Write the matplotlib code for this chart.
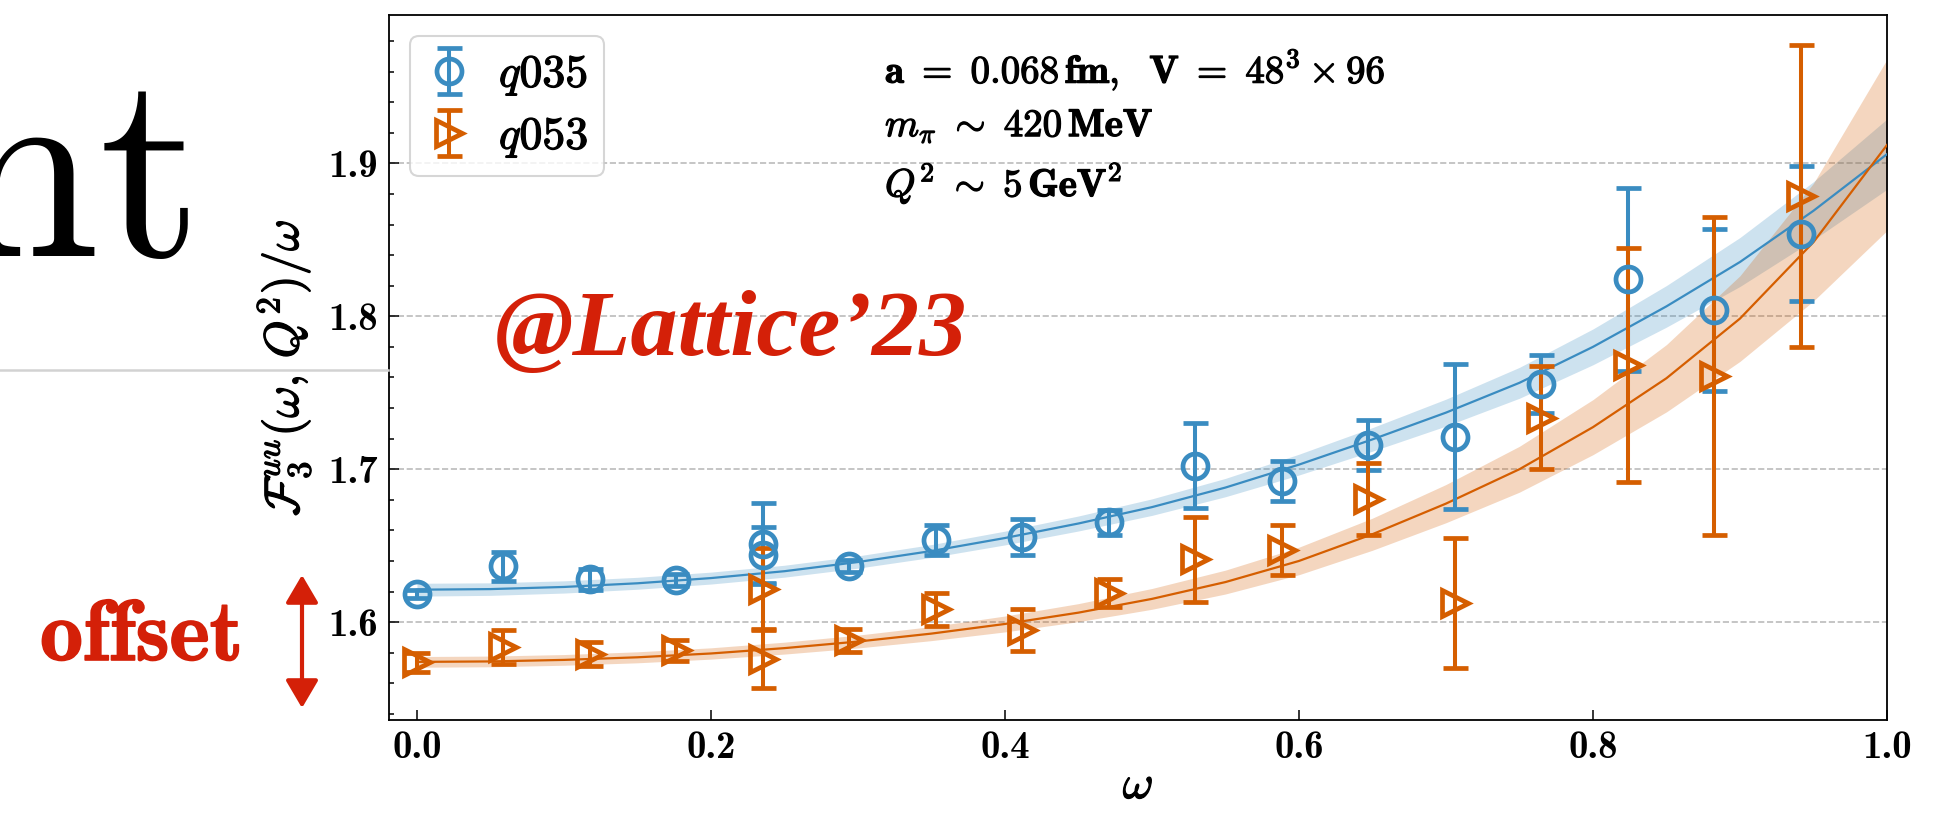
import matplotlib
matplotlib.use("Agg")
import matplotlib.pyplot as plt
import matplotlib.patheffects as pe
from matplotlib.ticker import MultipleLocator
from matplotlib.patches import FancyArrowPatch
from matplotlib.lines import Line2D

plt.rcParams['mathtext.fontset'] = 'cm'

# ---- data ----
omega = [0.0, 0.0588, 0.1176, 0.1765, 0.2353, 0.2353, 0.2941, 0.3529, 0.4118,
         0.4706, 0.5294, 0.5882, 0.6471, 0.7059, 0.7647, 0.8235, 0.8824, 0.9412]

f_q035 = [1.6183, 1.6366, 1.6279, 1.6275, 1.6514, 1.6438, 1.6366, 1.6536, 1.6558,
          1.6652, 1.7024, 1.6924, 1.7157, 1.7211, 1.7556, 1.8242, 1.8039, 1.8540]
err_q035 = [0.0025, 0.0095, 0.0068, 0.004, 0.0266, 0.0185, 0.004, 0.010, 0.0117,
            0.008, 0.0275, 0.013, 0.0163, 0.0474, 0.019, 0.0597, 0.053, 0.044]

f_q053 = [1.5737, 1.5839, 1.5791, 1.5817, 1.6218, 1.5758, 1.5882, 1.6083, 1.5948,
          1.6192, 1.6410, 1.6471, 1.6806, 1.6122, 1.7338, 1.7680, 1.7608, 1.8786]
err_q053 = [0.006, 0.011, 0.0078, 0.0068, 0.0265, 0.019, 0.0075, 0.0108, 0.0137,
            0.0093, 0.0278, 0.0163, 0.0236, 0.0425, 0.0335, 0.0765, 0.104, 0.0985]

# fitted curves and their bands
omega_fit = [0.00, 0.05, 0.10, 0.15, 0.20, 0.25, 0.30, 0.35, 0.40, 0.45, 0.50,
             0.55, 0.60, 0.65, 0.70, 0.75, 0.80, 0.85, 0.90, 0.95, 1.00]
fit_q035 = [1.6212, 1.6216, 1.6230, 1.6254, 1.6288, 1.6333, 1.6393, 1.6465, 1.6550,
            1.6645, 1.6752, 1.6880, 1.7030, 1.7195, 1.7370, 1.7565, 1.7800, 1.8065,
            1.8355, 1.8690, 1.9060]
band_q035 = [0.0042, 0.0041, 0.0040, 0.0039, 0.0039, 0.0039, 0.0040, 0.0042, 0.0045,
             0.0049, 0.0054, 0.0060, 0.0068, 0.0077, 0.0088, 0.0101, 0.0117, 0.0136,
             0.0160, 0.0190, 0.0230]
fit_q053 = [1.5740, 1.5743, 1.5753, 1.5770, 1.5795, 1.5830, 1.5873, 1.5925, 1.5988,
            1.6062, 1.6152, 1.6262, 1.6400, 1.6575, 1.6775, 1.7000, 1.7275, 1.7595,
            1.7985, 1.8485, 1.9120]
band_q053 = [0.0035, 0.0035, 0.0035, 0.0036, 0.0037, 0.0039, 0.0042, 0.0046, 0.0052,
             0.0059, 0.0068, 0.0078, 0.0090, 0.0105, 0.0125, 0.0150, 0.0180, 0.0220,
             0.0280, 0.0385, 0.0560]

xticks = [0.0, 0.2, 0.4, 0.6, 0.8, 1.0]
yticks = [1.6, 1.7, 1.8, 1.9]

blue = '#3a8cc1'
orange = '#d55e00'
red = '#d42008'

W, H = 1936, 823
fig = plt.figure(figsize=(W / 100, H / 100), dpi=100)
ax = fig.add_axes([389 / W, 1 - 720 / H, 1498 / W, 705 / H])

# fake "boldsymbol": thicken glyphs with a thin stroke
heavy = [pe.withStroke(linewidth=0.9, foreground='black')]

def band(fit, wid, sign):
    return [f + sign * w for f, w in zip(fit, wid)]

ax.fill_between(omega_fit, band(fit_q035, band_q035, -1), band(fit_q035, band_q035, 1),
                color=blue, alpha=0.25, lw=0, zorder=2)
ax.fill_between(omega_fit, band(fit_q053, band_q053, -1), band(fit_q053, band_q053, 1),
                color=orange, alpha=0.25, lw=0, zorder=2)
ax.plot(omega_fit, fit_q035, color=blue, lw=1.6, zorder=3)
ax.plot(omega_fit, fit_q053, color=orange, lw=1.6, zorder=3)

ekw = dict(ls='none', mew=3.4, mfc='none', elinewidth=2.9, capsize=9, capthick=2.9, zorder=4)
ax.errorbar(omega, f_q035, yerr=err_q035, marker='o', ms=18, color=blue,
            label=r'$q\mathbf{035}$', **ekw)
ax.errorbar(omega, f_q053, yerr=err_q053, marker='>', ms=19, color=orange,
            label=r'$q\mathbf{053}$', **ekw)

ax.set_xlim(-0.019, 1.0)
ax.set_ylim(1.536, 1.997)
ax.set_xticks(xticks)
ax.set_xticklabels(['%.1f' % t for t in xticks], family='cmb10', size=28)
ax.set_yticks(yticks)
ax.set_yticklabels(['%.1f' % t for t in yticks], family='cmb10', size=28)
ax.yaxis.set_minor_locator(MultipleLocator(0.02))
ax.tick_params(which='both', direction='in', top=False, right=False, width=1.1)
ax.tick_params(which='major', length=7, pad=8)
ax.tick_params(which='minor', length=3.5)
for s in ax.spines.values():
    s.set_linewidth(1.3)
ax.grid(axis='y', ls='--', color='#bbbbbb', lw=1.2, zorder=0)
ax.set_axisbelow(True)

ax.set_xlabel(r'$\omega$', size=34, labelpad=-2, path_effects=heavy)
ax.set_ylabel(r'$\mathcal{F}_{\mathbf{3}}^{uu}(\omega,\, Q^{\mathbf{2}})/\omega$', size=35,
              labelpad=11, path_effects=heavy)

leg = ax.legend(loc='upper left', fontsize=33, handlelength=1.0, handletextpad=0.6,
                labelspacing=0.35, borderpad=0.35, borderaxespad=0.45,
                fancybox=True, edgecolor='#cccccc')
leg.get_frame().set_linewidth(1.5)
for t in leg.get_texts():
    t.set_path_effects(heavy)

tx = (885 - 389) / 1498
ax.text(tx, 0.904, r'$\mathbf{a\ =\ 0.068\,fm,\ \ V\ =\ 48^3 \times 96}$', transform=ax.transAxes,
        size=28, va='baseline', path_effects=heavy)
ax.text(tx, 0.828, r'$m_\pi\ \sim\ \mathbf{420\,MeV}$', transform=ax.transAxes,
        size=28, va='baseline', path_effects=heavy)
ax.text(tx, 0.743, r'$Q^{\mathbf{2}}\ \sim\ \mathbf{5\,GeV^2}$', transform=ax.transAxes,
        size=28, va='baseline', path_effects=heavy)

# slide decorations around the plot
fig.text(495 / W, 1 - 355 / H, '@Lattice\u201923', family='Liberation Serif',
         weight='bold', style='italic', size=68, color=red, va='baseline')
fig.text(203 / W, 1 - 256 / H, 'nt', family='cmr10', size=192, ha='right', va='baseline')
fig.text(40 / W, 1 - 660 / H, 'offset', family='cmb10', size=62, color=red, va='baseline',
         path_effects=[pe.withStroke(linewidth=1.2, foreground=red)])
fig.add_artist(Line2D([0, 388 / W], [1 - 370 / H, 1 - 370 / H], color='#d2d2d2', lw=1.8))
fig.add_artist(FancyArrowPatch((302 / W, 1 - 575 / H), (302 / W, 1 - 708 / H),
                               transform=fig.transFigure,
                               arrowstyle='<|-|>,head_length=1.7,head_width=1.0',
                               mutation_scale=10, color=red, lw=3, shrinkA=0, shrinkB=0))

fig.savefig('out.png', dpi=100)
